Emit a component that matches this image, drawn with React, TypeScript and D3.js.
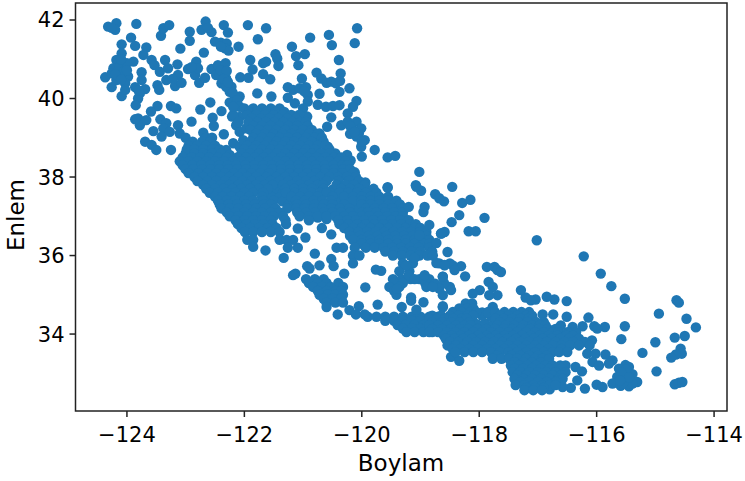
import React from "react";
import * as d3 from "d3";

const xTickValues = [-124, -122, -120, -118, -116, -114];
const yTickValues = [34, 36, 38, 40, 42];
const xAxisLabel = "Boylam";
const yAxisLabel = "Enlem";

// [longitude, latitude]
const northPoints: [number, number][] = [
  [-124.32,41.83],[-124.18,41.92],[-124.2,41.75],[-124.26,41.8],[-123.84,41.9],[-123.93,41.55],[-124.09,41.38],[-123.86,41.34],[-123.67,41.3],[-123.72,41.11],
  [-123.42,41.6],[-123.38,41.79],[-123.28,41.87],[-122.93,41.7],[-122.93,41.47],[-123.09,41.27],[-122.66,41.96],[-122.73,41.75],[-122.56,41.69],[-122.62,41.8],
  [-122.35,41.87],[-122.28,41.68],[-121.94,41.87],[-121.63,41.79],[-121.77,41.51],[-122.1,41.32],[-120.88,41.55],[-120.56,41.62],[-120.51,41.36],[-120.08,41.79],
  [-120.12,41.41],[-121.19,41.32],[-121.47,41.13],[-121.44,41.02],[-121.12,41.08],[-120.97,41.13],[-121.08,40.85],[-120.39,40.98],[-122.69,41.17],
  [-122.5,41.45],[-122.4,41.42],[-122.3,41.4],[-122.33,41.28],[-122.27,41.22],[-122.4,41.32],
  [-124.37,40.54],[-124.26,40.29],[-124.09,40.06],[-124.18,40.98],[-124.09,41.15],[-123.89,40.94],[-124.23,40.77],[-124.12,40.81],[-124,40.9],[-124.26,40.64],
  [-124.12,40.6],[-123.98,40.56],[-124.03,40.39],[-124.18,40.47],[-124.06,40.68],[-124.1,41.0],[-124.2,40.62],[-124.1,40.48],[-124.0,40.72],
  [-123.75,40.67],[-123.75,40.47],[-124.03,40.22],[-123.86,40.29],[-123.69,40.24],[-123.78,40.13],[-123.81,40],[-123.85,39.83],[-123.8,40.2],
  [-123.48,40.34],[-123.45,40.22],[-123.58,40.98],[-123.53,40.85],[-123.44,40.68],[-123.35,40.98],[-123.3,40.77],[-123.14,40.87],[-123.33,40.47],[-123.18,40.32],
  [-123.13,40.6],[-123.07,40.4],[-123.22,40.5],[-122.96,40.75],[-122.82,40.94],[-122.84,40.6],[-122.77,40.4],[-122.67,40.53],[-122.79,40.77],[-122.9,40.8],
  [-122.56,40.75],[-122.45,40.85],[-122.32,40.9],[-122.48,40.6],[-122.39,40.39],[-122.31,40.51],[-122.22,40.3],[-122.25,40.17],[-122.16,40.05],[-122.08,40.05],
  [-122.31,40.3],[-122.42,40.6],[-122.4,40.72],[-122.3,40.7],[-122.25,39.9],[-122.15,39.85],[-122.35,40.5],[-122.28,40.42],[-122.2,40.15],[-122.12,39.95],
  [-122.07,40.54],[-121.93,40.53],[-121.9,40.98],[-121.86,40.74],[-121.68,40.9],[-121.63,40.94],[-121.42,40.83],[-121.68,40.62],[-121.56,40.49],[-121.78,40.13],[-121.54,40.05],
  [-120.77,40.66],[-121.02,40.51],[-120.69,40.51],[-120.6,40.4],[-120.52,40.43],[-120.44,40.39],[-120.36,40.64],[-120.37,40.45],[-120.38,40.17],[-120.21,40.26],[-120.72,40.12],
  [-121.26,40.29],[-121.17,40.22],[-121.06,40.26],[-120.95,40.29],[-121.26,40.02],[-121.14,39.88],[-120.92,40.09],[-120.92,39.92],[-121,39.75],[-120.98,40.18],
  [-120.75,39.84],[-120.61,39.79],[-120.49,39.81],[-120.38,39.83],[-120.09,39.94],[-120.15,39.79],[-120.24,39.62],[-120.52,39.52],[-120.59,39.28],[-120.72,39.11],
  [-120.93,39.54],[-120.35,39.32],[-120.24,39.41],[-120.09,39.41],[-120.01,39.24],[-120.15,39.2],[-120.09,39.03],[-119.95,38.94],[-120.01,38.77],[-119.78,38.69],
  [-120,38.52],[-119.56,38.5],[-119.43,38.54],[-120.25,38.56],[-120.19,38.42],[-120.45,38.6],[-120.58,38.77],[-119.56,37.74],[-119.94,37.86],[-119.81,37.67],
  [-120.12,38.12],[-120.2,39.1],[-120.05,39.1],[-120.0,38.9],[-120.2,39.3],[-120.12,39.15],
  [-123.48,39.81],[-123.59,39.67],[-123.25,39.81],[-123.16,39.75],[-123.81,39.49],[-123.78,39.32],[-123.86,39.47],[-123.67,39.45],[-123.55,39.17],[-123.69,38.9],
  [-123.58,38.82],[-123.5,38.69],[-123.25,38.69],[-123.43,39.47],[-123.33,39.37],[-123.38,39.24],[-123.13,39.32],[-123.41,39.03],[-123.27,39.15],[-123.1,39.11],
  [-122.9,39.41],[-122.75,39.72],[-122.58,39.9],[-122.39,39.68],[-122.54,39.51],[-122.52,39.3],[-122.35,39.09],[-122.21,39.54],[-122.7,39.13],[-122.19,38.86],[-123.0,39.0],
];

const gapPoints: [number, number][] = [
  [-122.08,39.53],[-122.14,39.32],[-122.08,39.15],[-121.97,39.24],[-122.31,38.69],[-122.25,38.56],[-122.08,38.77],[-122.42,38.64],[-122.02,38.94],
  [-122.08,39.79],[-122.19,39.58],[-122.19,39.79],
  [-121.5,37.7],[-121.4,37.74],[-121.55,37.6],[-121.45,37.62],[-121.35,37.58],[-121.55,37.5],[-121.4,37.48],[-121.25,37.52],[-121.5,37.4],[-121.35,37.38],
  [-121.2,37.41],[-121.25,37.29],[-121.27,37.2],
  [-120.5,37.68],[-120.5,37.58],[-120.4,37.5],[-120.37,37.4],[-120.22,37.38],[-120.15,37.3],[-120.07,37.2],
  [-120.75,36.97],[-120.6,36.93],
  [-118.0,34.22],[-117.85,34.2],[-118.05,34.26],[-117.9,34.27],[-117.75,34.25],[-117.95,34.47],[-117.8,34.46],
];

// [latitude, longitudes]
const sierraRows: [number, number[]][] = [
  [39.75,[-122.0,-121.85,-121.7,-121.55,-121.4]],
  [39.66,[-121.92,-121.78,-121.62,-121.47,-121.32]],
  [39.58,[-121.95,-121.8,-121.65,-121.5,-121.35,-121.2,-121.07]],
  [39.49,[-121.88,-121.72,-121.57,-121.42,-121.27,-121.12]],
  [39.4,[-122.1,-121.93,-121.78,-121.63,-121.48,-121.33,-121.18,-121.05,-120.95]],
  [39.3,[-121.85,-121.7,-121.55,-121.4,-121.25,-121.1,-120.92]],
  [39.2,[-121.9,-121.75,-121.6,-121.45,-121.3,-121.15,-121.0,-120.85]],
  [39.1,[-121.8,-121.65,-121.5,-121.35,-121.2,-121.05,-120.9,-120.75]],
  [39.0,[-122.65,-122.55,-121.85,-121.7,-121.55,-121.4,-121.25,-121.1,-120.95,-120.8,-120.68]],
  [38.9,[-122.88,-122.72,-122.58,-121.9,-121.75,-121.6,-121.45,-121.3,-121.15,-121.0,-120.85,-120.65]],
  [38.8,[-122.95,-122.8,-122.65,-122.5,-121.95,-121.8,-121.65,-121.5,-121.35,-121.2,-121.05,-120.9,-120.75,-120.62]],
  [38.7,[-122.98,-122.85,-122.7,-122.55,-122.42,-122.0,-121.85,-121.7,-121.55,-121.4,-121.25,-121.1,-120.95,-120.8,-120.55]],
  [38.6,[-123.0,-122.85,-122.7,-122.55,-122.4,-122.05,-121.9,-121.75,-121.6,-121.45,-121.3,-121.15,-121.0,-120.85,-120.7,-120.55]],
  [38.5,[-123.05,-122.9,-122.75,-122.6,-122.45,-122.3,-122.12,-121.97,-121.82,-121.67,-121.52,-121.37,-121.22,-121.07,-120.92,-120.77,-120.62,-120.47,-120.35]],
  [38.4,[-123.1,-122.95,-122.8,-122.65,-122.5,-122.35,-122.2,-122.05,-121.9,-121.75,-121.6,-121.45,-121.3,-121.15,-121.0,-120.85,-120.7,-120.55,-120.4,-120.28]],
  [38.3,[-123.05,-122.88,-122.73,-122.58,-122.43,-122.28,-122.13,-121.98,-121.83,-121.68,-121.53,-121.38,-121.23,-121.08,-120.93,-120.78,-120.63,-120.48,-120.33,-120.25]],
  [38.2,[-123.0,-122.87,-122.72,-122.57,-122.42,-122.27,-122.12,-121.97,-121.82,-121.67,-121.52,-121.37,-121.22,-121.07,-120.92,-120.77,-120.62,-120.47,-120.32,-120.2]],
  [38.1,[-122.95,-122.78,-122.63,-122.48,-122.33,-122.18,-122.03,-121.88,-121.73,-121.58,-121.38,-121.23,-121.08,-120.93,-120.78,-120.63,-120.48,-120.33,-120.15]],
  [38.0,[-122.85,-122.7,-122.55,-122.4,-122.25,-122.1,-121.95,-121.8,-121.62,-121.45,-121.3,-121.15,-121.0,-120.85,-120.7,-120.55,-120.4,-120.25,-120.1]],
];

const valleyRows: [number, number[]][] = [
  [37.9,[-122.8,-122.63,-122.48,-122.33,-122.18,-122.03,-121.88,-121.73,-121.55,-121.4,-121.25,-121.1,-120.95,-120.8,-120.6,-120.4,-120.22,-120.05]],
  [37.8,[-122.7,-122.55,-122.4,-122.25,-122.1,-121.95,-121.8,-121.65,-121.52,-121.34,-121.2,-121.05,-120.9,-120.75,-120.66,-120.43,-120.28,-120.13,-119.95]],
  [37.7,[-122.65,-122.5,-122.35,-122.2,-122.05,-121.9,-121.75,-121.6,-121.3,-121.15,-121.0,-120.85,-120.65,-120.35,-120.2,-120.05,-119.8]],
  [37.6,[-122.59,-122.45,-122.3,-122.15,-122.0,-121.85,-121.68,-121.29,-121.14,-121.0,-120.85,-120.7,-120.6,-120.38,-120.23,-120.08,-119.93,-119.75]],
  [37.5,[-122.5,-122.37,-122.22,-122.07,-121.92,-121.7,-121.2,-121.05,-120.9,-120.75,-120.5,-120.3,-120.15,-120.0,-119.85,-119.7,-119.55]],
  [37.4,[-122.45,-122.3,-122.15,-122.0,-121.85,-121.68,-121.12,-120.97,-120.82,-120.67,-120.52,-120.15,-120.0,-119.85,-119.7,-119.55,-119.41]],
  [37.3,[-122.42,-122.27,-122.12,-121.97,-121.82,-121.67,-121.55,-121.1,-120.95,-120.8,-120.65,-120.5,-120.3,-120.0,-119.85,-119.7,-119.55,-119.35]],
  [37.2,[-122.39,-122.25,-122.1,-121.95,-121.8,-121.65,-121.47,-121.12,-120.97,-120.82,-120.67,-120.52,-120.37,-120.21,-119.93,-119.78,-119.63,-119.48,-119.3]],
  [37.1,[-122.3,-122.15,-122.0,-121.85,-121.7,-121.55,-121.4,-121.1,-120.95,-120.8,-120.65,-120.5,-120.35,-120.2,-120.0,-119.9,-119.75,-119.6,-119.45,-119.3]],
  [37.0,[-122.25,-122.1,-121.95,-121.8,-121.65,-121.5,-121.34,-121.06,-120.9,-120.75,-120.6,-120.45,-120.3,-120.15,-120.0,-119.87,-119.72,-119.57,-119.42,-119.3]],
  [36.9,[-122.15,-122.0,-121.85,-121.7,-121.55,-121.3,-120.9,-120.4,-120.25,-120.1,-119.95,-119.8,-119.65,-119.5,-119.35,-119.2]],
  [36.8,[-122.11,-121.97,-121.82,-121.67,-121.52,-121.29,-120.38,-120.23,-120.08,-119.93,-119.78,-119.63,-119.48,-119.33,-119.18,-119.08]],
  [36.7,[-122.05,-121.9,-121.75,-121.6,-121.45,-120.3,-120.15,-120.0,-119.85,-119.7,-119.55,-119.4,-119.25,-119.1,-119.0]],
  [36.6,[-121.99,-121.85,-121.7,-121.55,-121.4,-120.21,-120.06,-119.91,-119.76,-119.61,-119.46,-119.31,-119.16,-119.01,-118.9]],
  [36.5,[-120.2,-120.03,-119.88,-119.73,-119.58,-119.43,-119.28,-119.13,-118.98,-118.9]],
  [36.4,[-121.95,-121.85,-121.4,-121.28,-121.17,-120.15,-120.0,-119.85,-119.7,-119.55,-119.4,-119.25,-119.1,-118.95,-118.85]],
  [36.3,[-120.0,-119.85,-119.7,-119.55,-119.4,-119.25,-119.1,-118.95,-118.85]],
  [36.2,[-121.26,-121.09,-120.43,-120.32,-120.12,-119.93,-119.78,-119.63,-119.48,-119.33,-119.18,-119.03,-118.85]],
  [36.1,[-119.6,-119.45,-119.3,-119.15,-119.0,-118.8]],
  [36.0,[-120.15,-120.04,-119.47,-119.32,-119.17,-119.02,-118.88,-118.79]],
  [35.8,[-120.15,-119.3,-119.13,-118.68,-118.5]],
  [35.6,[-119.36,-119.19]],
  [35.4,[-120.95,-120.8,-120.65,-119.47,-119.32,-119.17,-119.02,-118.85]],
  [35.3,[-120.9,-120.75,-120.6,-120.4,-119.45,-119.3,-118.92]],
  [35.2,[-120.83,-120.68,-120.53,-120.32,-119.53,-119.36,-118.9,-118.68,-118.5]],
  [35.1,[-120.75,-120.6,-120.45,-120.35,-119.45]],
  [35.0,[-120.72,-120.58,-120.45,-120.32,-119.41]],
  [34.9,[-120.65,-120.5,-120.35]],
  [34.8,[-120.6,-120.45,-120.32]],
  [34.44,[-119.9,-119.75,-119.6,-119.45,-119.3,-119.15,-119.0,-118.85,-118.7,-118.5]],
  [34.34,[-119.6,-119.45,-119.3,-119.15,-119.0,-118.85,-118.7,-118.55]],
  [34.23,[-119.39,-119.25,-119.1,-118.95,-118.8,-118.65,-118.5]],
  [34.14,[-119.3,-119.15,-119.0,-118.85,-118.7,-118.55]],
  [34.05,[-119.24,-119.1,-118.95,-118.8,-118.65,-118.5]],
];

const scatteredCentral: [number, number][] = [
  [-119.56,37.73],[-119.08,37.79],[-118.99,37.65],[-118.75,37.56],[-118.6,37.38],[-119.2,37.24],[-118.95,37.11],[-121.09,36.69],[-120.68,36.7],[-120.52,36.54],
  [-120.96,36.46],[-118.65,36.56],[-121.85,36.22],[-121.64,36.13],[-121.33,35.94],[-120.8,36.05],[-120.52,35.91],[-120.48,35.73],[-120.3,35.54],[-120.93,35.73],
  [-120.89,35.67],[-121.13,35.54],[-121.17,35.5],[-120.72,35.75],[-119.76,35.64],[-119.67,35.61],[-118.62,35.46],[-119.94,35.19],[-119.16,34.93],[-119.73,34.75],
  [-119.32,34.69],[-119.16,34.85],[-118.95,34.81],[-119.07,34.62],[-118.62,34.71],[-120.41,34.5],[-120.6,34.69],[-120.05,34.71],[-120.21,34.61],[-120.1,34.5],[-119.95,34.5],
  [-119.02,38.13],[-119.07,37.75],[-118.93,37.24],[-118.68,37.46],[-118.46,37.75],[-118.29,37.34],[-118.15,37.42],[-117.91,36.96],[-118.34,37.03],[-118.47,36.85],
  [-118.85,36.78],[-119.02,36.52],[-118.59,36.6],[-118.73,36.32],[-118.59,35.76],[-118.73,35.81],[-118.93,35.5],[-119.1,35.94],
  [-119.25,35.75],[-119.2,35.5],[-119.1,35.4],[-118.75,35.28],[-118.6,35.3],[-119.4,35.15],
];

const southDesert: [number, number][] = [
  [-117.02,36.39],[-116.22,35.98],[-115.93,35.54],[-115.75,35.22],[-115.52,34.9],[-114.64,34.86],[-114.6,34.8],[-114.94,34.52],[-114.47,34.39],[-114.31,34.17],
  [-115.52,34.2],[-114.5,33.95],[-114.67,33.91],[-115.58,33.87],[-115,33.79],[-115.22,33.52],[-114.57,33.63],[-114.55,33.5],[-114.65,33.48],[-114.73,33.4],
  [-114.98,33.05],[-114.67,32.72],[-114.6,32.76],[-114.54,32.78],[-116.51,34.84],[-116.51,34.44],[-116.14,34.42],[-115.86,34.18],[-116.72,34.88],[-116.85,34.95],
  [-117.04,34.88],[-117.21,34.93],[-117.29,35.12],[-117.12,34.86],[-116.92,34.5],[-116.74,34.5],[-116.61,34.22],[-116.41,34.18],[-116.24,34.2],[-116.04,34.2],
  [-115.99,34.14],[-116.08,33.84],[-116.16,33.5],[-116.02,33.5],[-115.85,33.48],[-115.73,33.33],[-116.07,33.29],[-115.96,33.2],[-115.79,33.25],[-116.36,33.16],
  [-116.25,33.05],[-116,32.71],[-115.9,32.65],[-116.2,32.61],[-116.33,32.82],[-116.44,32.63],[-116.58,32.65],[-116.8,32.59],
  [-115.51,33.21],[-115.45,33.16],[-115.62,33.12],[-115.53,33],[-115.39,32.98],[-115.65,32.91],[-115.51,32.82],[-115.31,32.78],[-115.73,32.74],[-115.59,32.68],
  [-115.45,32.67],[-115.39,32.74],[-115.5,33.1],[-115.55,32.75],[-115.58,33.02],[-115.45,32.9],[-115.6,32.82],
  [-117.87,35.71],[-117.74,35.71],[-117.69,35.63],[-117.63,35.58],[-118.24,35.47],[-118.31,35.73],[-118.45,35.75],[-118.42,35.63],[-118.59,35.75],[-118.62,35.46],
  [-118.54,36.09],[-118.65,36.56],[-118.18,36.62],[-118.06,36.62],[-117.84,35.33],[-117.77,35.2],[-117.69,34.99],[-117.99,35.12],[-118.11,35.03],[-117.83,34.99],
  [-118.48,35.12],[-118.62,34.99],[-118.68,35.16],[-118.79,35.2],[-118.48,33.42],[-118.34,33.32],[-118.62,34.68],[-117.77,34.69],[-117.95,34.55],
];

const southRows: [number, number[]][] = [
  [34.78,[-118.23,-118.12]],
  [34.65,[-118.34,-118.2,-118.1]],
  [34.56,[-118.45,-118.3,-118.15,-118.05,-117.85,-117.73,-117.57,-117.42,-117.28,-117.15]],
  [34.47,[-118.8,-118.65,-118.5,-118.35,-118.2,-118.1,-117.65,-117.5,-117.35,-117.2,-117.1]],
  [34.39,[-118.85,-118.72,-118.58,-118.44,-118.3,-118.22,-117.72,-117.58,-117.44,-117.3,-117.16,-117.09]],
  [34.3,[-118.8,-118.63,-118.48,-118.33,-118.17,-117.65,-117.48,-117.33,-117.18,-117.03,-116.9]],
  [34.22,[-118.85,-118.7,-118.55,-118.4,-118.25,-118.15,-117.69,-117.55,-117.4,-117.25,-117.1,-116.97,-116.87]],
  [34.13,[-118.8,-118.63,-118.48,-118.33,-118.18,-118.03,-117.88,-117.73,-117.58,-117.43,-117.28,-117.13,-116.98,-116.83,-116.7]],
  [34.05,[-118.85,-118.7,-118.55,-118.4,-118.25,-118.1,-117.95,-117.8,-117.65,-117.5,-117.35,-117.2,-117.05,-116.9,-116.75,-116.65,-116.5,-116.35]],
  [33.96,[-118.6,-118.47,-118.32,-118.17,-118.02,-117.87,-117.72,-117.57,-117.42,-117.27,-117.12,-116.97,-116.82,-116.67,-116.52,-116.4]],
  [33.88,[-118.57,-118.42,-118.27,-118.12,-117.97,-117.82,-117.67,-117.52,-117.37,-117.22,-117.07,-116.92,-116.77,-116.62,-116.47,-116.3]],
  [33.8,[-118.5,-118.35,-118.2,-118.05,-117.9,-117.75,-117.6,-117.45,-117.3,-117.15,-117.0,-116.85,-116.7,-116.55,-116.4,-116.2]],
  [33.71,[-118.54,-118.4,-118.25,-118.1,-117.95,-117.8,-117.65,-117.5,-117.35,-117.2,-117.05,-116.9,-116.75,-116.6,-116.45,-116.3,-116.12]],
  [33.62,[-118.45,-118.32,-118.17,-118.02,-117.87,-117.72,-117.57,-117.42,-117.27,-117.12,-116.97,-116.82,-116.6]],
  [33.54,[-118.4,-118.25,-118.1,-117.95,-117.8,-117.65,-117.5,-117.35,-117.2,-117.05,-116.9,-116.75,-116.64,-116.5]],
  [33.45,[-117.7,-117.45,-117.3,-117.15,-117.0,-116.85]],
  [33.37,[-117.77,-117.62,-117.49,-117.35,-117.2,-117.05,-116.92,-116.81]],
  [33.28,[-117.4,-117.25,-117.1,-116.95]],
  [33.2,[-117.46,-117.32,-117.18,-117.03,-116.87,-116.75,-116.62,-116.53]],
  [33.12,[-117.4,-117.25,-117.1,-116.95,-116.8,-116.6]],
  [33.03,[-117.43,-117.3,-117.15,-117.0,-116.85,-116.7,-116.53]],
  [32.95,[-117.35,-117.2,-117.05,-116.9,-116.75,-116.6]],
  [32.86,[-117.4,-117.25,-117.1,-116.95,-116.8,-116.65,-116.58]],
  [32.78,[-117.3,-117.15,-117.0,-116.85,-116.7]],
  [32.7,[-117.38,-117.23,-117.08,-116.93,-116.8,-116.7]],
  [32.63,[-117.2,-117.05,-116.9]],
  [32.57,[-117.23,-117.08,-116.93]],
];

const rowPoints = (rows: [number, number[]][]) =>
  rows.flatMap(([lat, lons]) => lons.map((lon) => [lon, lat] as [number, number]));

const allPoints: [number, number][] = [
  ...northPoints,
  ...gapPoints,
  ...rowPoints(sierraRows),
  ...rowPoints(valleyRows),
  ...scatteredCentral,
  ...southDesert,
  ...rowPoints(southRows),
];

const W = 745, H = 481;
const L = 75.5, R = 727, T = 3, B = 411;
const x = d3.scaleLinear().domain([-124.876, -113.78]).range([L, R]);
const y = d3.scaleLinear().domain([32.04, 42.433]).range([B, T]);
const FONT = "'DejaVu Sans', sans-serif";
const fmt = (v: number) => String(v).replace("-", "\u2212");

export default function App() {
  return (
    <svg width={W} height={H} viewBox={`0 0 ${W} ${H}`} style={{ position: "absolute", left: 0, top: 0, background: "#fff" }}>
      <g fill="#1f77b4">
        {allPoints.map(([lon, lat], i) => (
          <circle key={i} cx={x(lon)} cy={y(lat)} r={5.2} />
        ))}
      </g>
      <rect x={L} y={T} width={R - L} height={B - T} fill="none" stroke="#222" strokeWidth={1.5} />
      {xTickValues.map((t) => (
        <g key={t} transform={`translate(${x(t)},${B})`}>
          <line y2={6} stroke="#222" strokeWidth={1.5} />
          <text y={31} textAnchor="middle" fontFamily={FONT} fontSize={21} fill="#000">{fmt(t)}</text>
        </g>
      ))}
      {yTickValues.map((t) => (
        <g key={t} transform={`translate(${L},${y(t)})`}>
          <line x2={-6} stroke="#222" strokeWidth={1.5} />
          <text x={-11} y={7.5} textAnchor="end" fontFamily={FONT} fontSize={21} fill="#000">{fmt(t)}</text>
        </g>
      ))}
      <text x={401} y={471} textAnchor="middle" fontFamily={FONT} fontSize={23} fill="#000">{xAxisLabel}</text>
      <text transform="translate(24,215) rotate(-90)" textAnchor="middle" fontFamily={FONT} fontSize={23} fill="#000">{yAxisLabel}</text>
    </svg>
  );
}
